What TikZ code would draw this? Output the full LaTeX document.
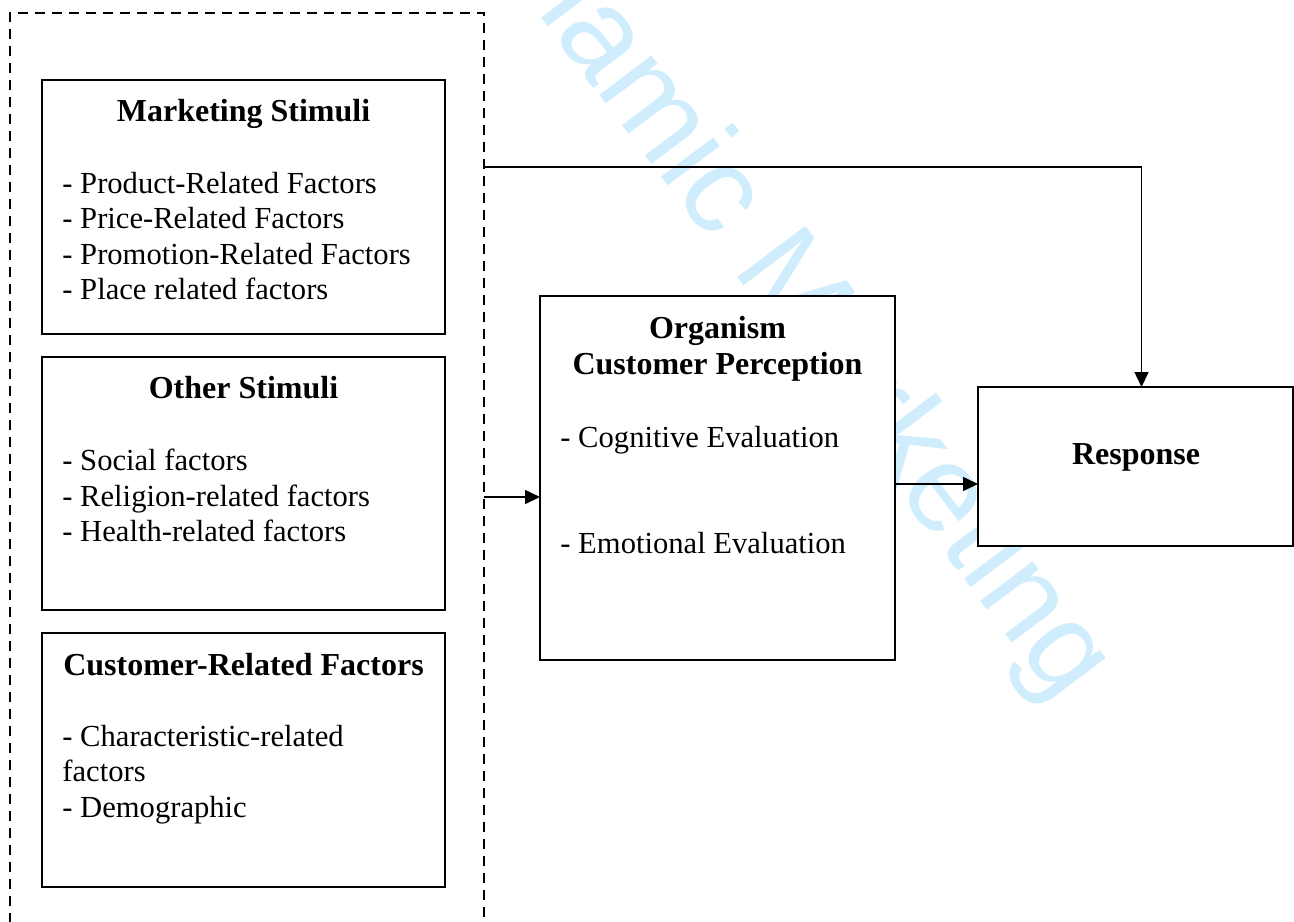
\documentclass[tikz,border=0pt]{standalone}
\usepackage{fontspec}
\setmainfont{Liberation Serif}
\newfontfamily\wmfont{Liberation Sans}
\usetikzlibrary{positioning, calc, arrows.meta}
\definecolor{wmark}{RGB}{207,237,252}

\begin{document}
\begin{tikzpicture}[x=0.5pt, y=-0.5pt,
  box/.style={draw=black, line width=0.75pt, fill=white, anchor=north west, inner sep=0, outer sep=0},
  title/.style={font=\fontsize{16}{18}\selectfont\bfseries, anchor=base, inner sep=0},
  items/.style={font=\fontsize{15.3}{17.65}\selectfont, align=left, anchor=north west, inner sep=0},
  arrow/.style={-{Triangle[length=7.5pt, width=7pt]}, line width=0.75pt}]

  \useasboundingbox (0,0) rectangle (1294,921);
  \clip (0,0) rectangle (1294,921);

  % watermark
  \node[text=wmark, font=\wmfont\fontsize{62}{62}\selectfont, rotate=-53, anchor=base west, inner sep=0] (watermark) at (478,-66) {Islamic Marketing};

  % stimuli frame
  \draw[line width=1.1pt, dash pattern=on 5pt off 3.5pt] (10,940) -- (10,13) -- (484,13) -- (484,940);
  \coordinate (stimuli out 1) at (484,167);
  \coordinate (stimuli out 2) at (484,497);

  \node[box, minimum width=201.5pt, minimum height=127pt] (marketing) at (42,80) {};
  \node[box, minimum width=201.5pt, minimum height=126.5pt] (other) at (42,357) {};
  \node[box, minimum width=201.5pt, minimum height=127pt] (customer) at (42,633) {};
  \node[box, minimum width=177.5pt, minimum height=182pt] (organism) at (540,296) {};
  \node[box, minimum width=157.5pt, minimum height=79.5pt] (response) at (978,387) {};

  \node[title] (marketing title) at (243.5,121) {Marketing Stimuli};
  \node[items] (marketing list) at (62,172) {- Product-Related Factors\\- Price-Related Factors\\- Promotion-Related Factors\\- Place related factors};

  \node[title] (other title) at (243.5,398) {Other Stimuli};
  \node[items] (other list) at (62,449) {- Social factors\\- Religion-related factors\\- Health-related factors};

  \node[title] (customer title) at (243.5,675) {Customer-Related Factors};
  \node[items] (customer list) at (62,725) {- Characteristic-related\\factors\\- Demographic};

  \node[title, align=center, anchor=north] (organism title) at (717.5,316) {Organism\\Customer Perception};
  \node[items, anchor=base west] (cognitive) at (560,447) {- Cognitive Evaluation};
  \node[items, anchor=base west] (emotional) at (560,553) {- Emotional Evaluation};

  \node[title] (response title) at (1136,464) {Response};

  \coordinate (response in) at ($(response.west)+(0,17.5)$);

  \draw[arrow] (stimuli out 1) -| ([xshift=3pt]response.north);
  \draw[arrow] (stimuli out 2) -- (stimuli out 2 -| organism.west);
  \draw[arrow] (organism.east |- response in) -- (response in);
\end{tikzpicture}
\end{document}
